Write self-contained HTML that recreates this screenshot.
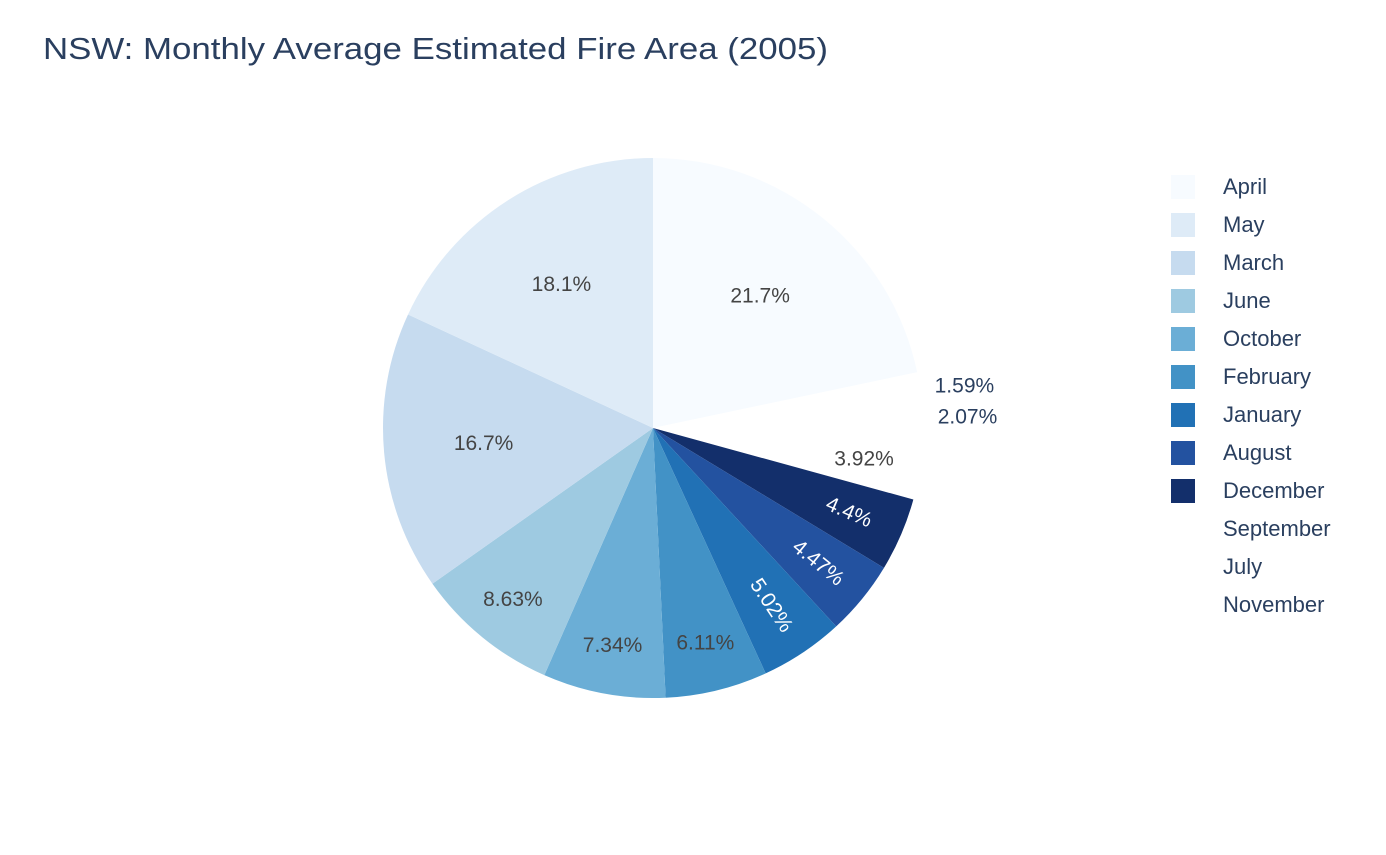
<!DOCTYPE html>
<html><head><meta charset="utf-8"><style>
body{margin:0;background:#fff;}
svg text{font-family:"Liberation Sans",sans-serif;}
</style></head><body>
<svg id="chart" width="1386" height="850" xmlns="http://www.w3.org/2000/svg">
<text x="43" y="59" font-size="31" textLength="785" lengthAdjust="spacingAndGlyphs" fill="#2a3f5f">NSW: Monthly Average Estimated Fire Area (2005)</text>
<g id="slices"></g><g id="labels"></g><g id="legend"></g>
</svg>
<script>
// clockwise from 12 o'clock
const months = ["April","November","July","September","December","August","January","February","October","June","March","May"];
const percents = [21.7,1.59,2.07,3.92,4.4,4.47,5.02,6.11,7.34,8.63,16.7,18.1];
const legendOrder = ["April","May","March","June","October","February","January","August","December","September","July","November"];
const colors = {April:"#f7fbff",May:"#deebf7",March:"#c6dbef",June:"#9ecae1",October:"#6baed6",February:"#4292c6",January:"#2171b5",August:"#2352a0",December:"#132f6b",September:"#ffffff",July:"#ffffff",November:"#ffffff"};
const darkText = {January:1,August:1,December:1};
const NS="http://www.w3.org/2000/svg";
const cx=653, cy=428, r=270;
const total=percents.reduce((a,b)=>a+b,0);
function pt(deg,rad){const a=deg*Math.PI/180;return [cx+rad*Math.sin(a), cy-rad*Math.cos(a)];}
let acc=0;
const sg=document.getElementById('slices'), lg=document.getElementById('labels');
months.forEach((m,i)=>{
  const a0=acc/total*360, a1=(acc+percents[i])/total*360; acc+=percents[i];
  const p0=pt(a0,r), p1=pt(a1,r);
  const path=document.createElementNS(NS,'path');
  path.setAttribute('d',`M${cx},${cy}L${p0[0]},${p0[1]}A${r},${r} 0 ${a1-a0>180?1:0} 1 ${p1[0]},${p1[1]}Z`);
  path.setAttribute('fill',colors[m]);
  
  
  sg.appendChild(path);
  const mid=(a0+a1)/2, p=percents[i];
  const t=document.createElementNS(NS,'text');
  t.setAttribute('font-size','21');
  t.textContent=p+'%';
  if(p<3){
    const q=pt(mid,r);
    t.setAttribute('x',q[0]+15);t.setAttribute('y',q[1]+7);
    t.setAttribute('fill','#2a3f5f');
  } else {
    const rf = p>15?0.63:(p>6?0.82:0.79);
    const q=pt(mid,r*rf);
    t.setAttribute('x',q[0]);t.setAttribute('y',q[1]);
    t.setAttribute('text-anchor','middle');t.setAttribute('dominant-baseline','central');
    t.setAttribute('fill',darkText[m]?'#ffffff':'#444444');
    if(darkText[m]) t.setAttribute('transform',`rotate(${mid-90} ${q[0]} ${q[1]})`);
  }
  
  
  lg.appendChild(t);
});
const leg=document.getElementById('legend');
legendOrder.forEach((m,i)=>{
  const y=187+i*38;
  const g=document.createElementNS(NS,'g');
  
  
  const rc=document.createElementNS(NS,'rect');
  rc.setAttribute('x',1171);rc.setAttribute('y',y-12);rc.setAttribute('width',24);rc.setAttribute('height',24);
  rc.setAttribute('fill',colors[m]);
  g.appendChild(rc);
  const t=document.createElementNS(NS,'text');
  t.setAttribute('x',1223);t.setAttribute('y',y+7);t.setAttribute('font-size','22');t.setAttribute('fill','#2a3f5f');
  t.textContent=m;
  g.appendChild(t);
  leg.appendChild(g);
});
</script>
</body></html>
